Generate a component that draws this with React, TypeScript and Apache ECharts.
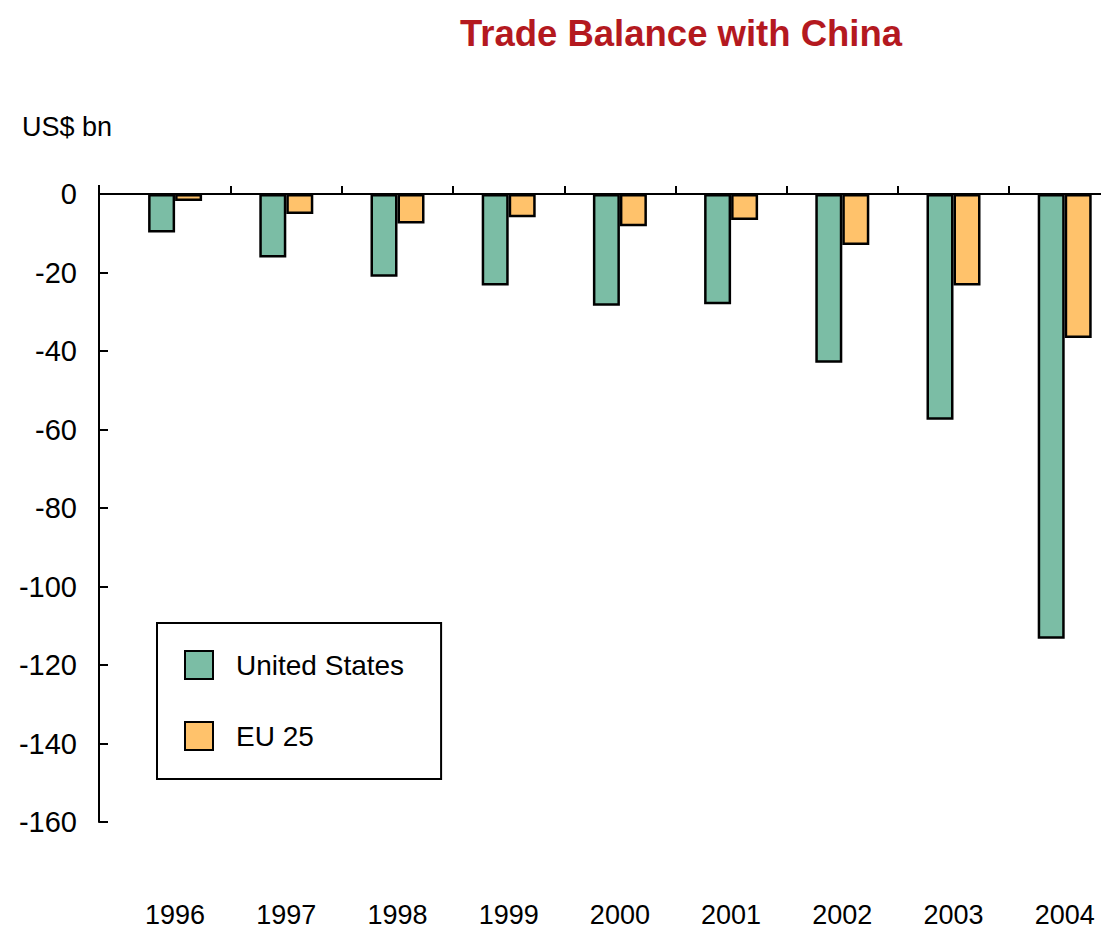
import React, { useEffect, useRef } from "react";
import * as echarts from "echarts";

const years = ["1996", "1997", "1998", "1999", "2000", "2001", "2002", "2003", "2004"];
const unitedStates = [-9.8, -16.2, -21.1, -23.3, -28.5, -28.1, -43.0, -57.5, -113.3];
const eu25 = [-1.8, -5.1, -7.5, -5.9, -8.2, -6.6, -13.0, -23.3, -36.7];
const yTicks = { min: -160, max: 0, interval: 20 };

const FONT = "'Liberation Sans', Arial, Helvetica, sans-serif";

export default function App() {
  const ref = useRef<HTMLDivElement>(null);
  useEffect(() => {
    if (!ref.current) return;
    const chart = echarts.init(ref.current, null, { renderer: "svg" });
    const lineStyle = { color: "#000", width: 2 };
    chart.setOption({
      animation: false,
      backgroundColor: "#fff",
      title: {
        text: "Trade Balance with China",
        left: 676,
        top: 10,
        textAlign: "center",
        textStyle: { color: "#B4191F", fontSize: 36.5, fontWeight: "bold", fontFamily: FONT },
      },
      graphic: [
        { type: "text", left: 22, top: 113, style: { text: "US$ bn", fontSize: 27, fontFamily: FONT, fill: "#000" } },
        { type: "line", shape: { x1: 99, y1: 194, x2: 121, y2: 194 }, style: { stroke: "#000", lineWidth: 2 } },
        { type: "line", shape: { x1: 99, y1: 185, x2: 99, y2: 194 }, style: { stroke: "#000", lineWidth: 2 } },
      ],
      legend: {
        orient: "vertical",
        left: 157,
        top: 623,
        padding: [27, 37, 28, 27],
        itemGap: 41,
        itemWidth: 28,
        itemHeight: 28,
        icon: "rect",
        borderColor: "#000",
        borderWidth: 2,
        textStyle: { fontSize: 28, fontFamily: FONT, color: "#000", padding: [0, 0, 0, 18] },
        data: ["United States", "EU 25"],
      },
      grid: { left: 119.5, top: 194, width: 1000.8, height: 628 },
      xAxis: [
        {
          type: "category",
          data: years,
          position: "top",
          axisLine: { show: true, lineStyle },
          axisTick: { show: true, length: 8, lineStyle, interval: (i: number) => i !== 0 },
          axisLabel: { show: false },
          splitLine: { show: false },
        },
        {
          type: "category",
          data: years,
          position: "bottom",
          axisLine: { show: false },
          axisTick: { show: false },
          axisLabel: { show: true, margin: 79, fontSize: 27, fontFamily: FONT, color: "#000" },
        },
      ],
      yAxis: {
        type: "value",
        min: yTicks.min,
        max: yTicks.max,
        interval: yTicks.interval,
        offset: 20.5,
        axisLine: { show: true, lineStyle },
        axisTick: { show: true, inside: true, length: 9, lineStyle },
        axisLabel: { margin: 22, fontSize: 29, fontFamily: FONT, color: "#000" },
        splitLine: { show: false },
      },
      series: [
        {
          name: "United States",
          type: "bar",
          data: unitedStates,
          barWidth: 27,
          barGap: "0%",
          itemStyle: { color: "#7BBDA5", borderColor: "#000", borderWidth: 2.5 },
        },
        {
          name: "EU 25",
          type: "bar",
          data: eu25,
          barWidth: 27,
          barGap: "0%",
          itemStyle: { color: "#FFC26B", borderColor: "#000", borderWidth: 2.5 },
        },
      ],
    });
    return () => chart.dispose();
  }, []);
  return (
    <div style={{ position: "absolute", left: 0, top: 0, width: 1101, height: 929, overflow: "hidden" }}>
      <div ref={ref} style={{ width: 1140, height: 929 }} />
    </div>
  );
}
